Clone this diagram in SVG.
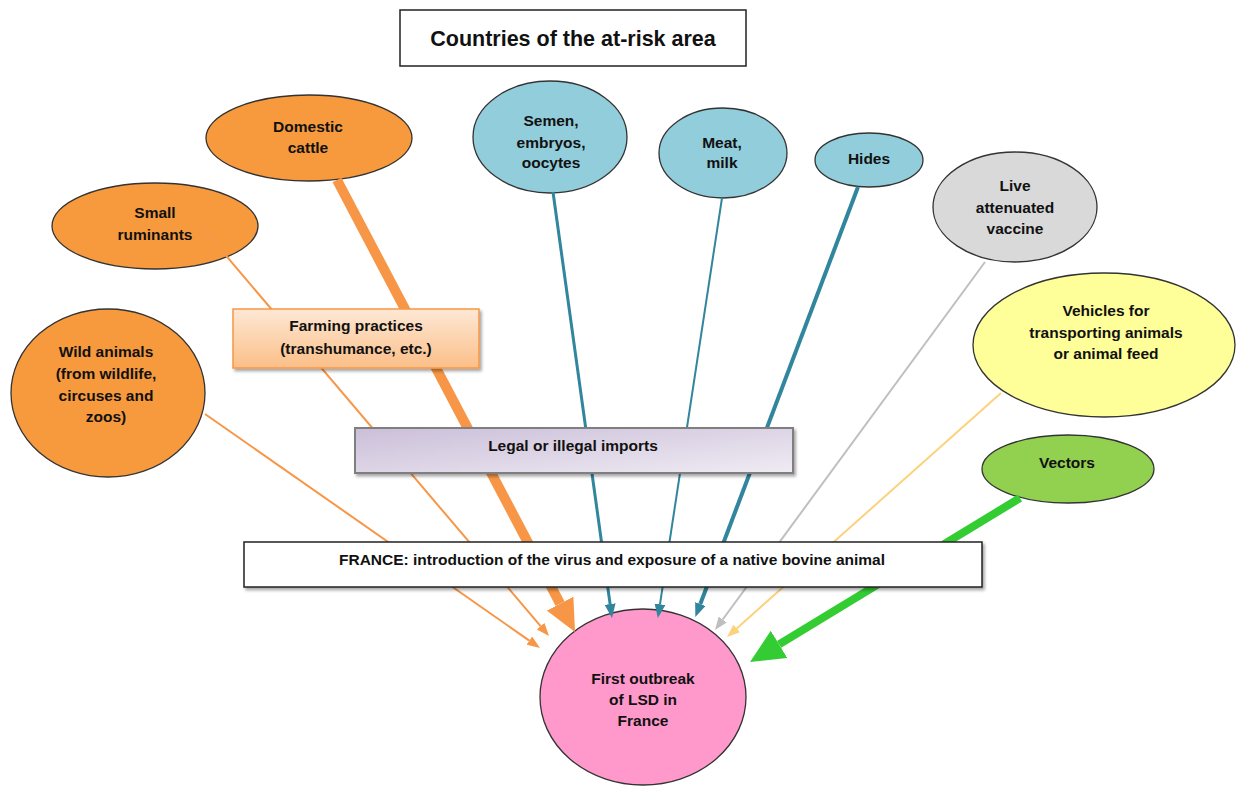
<svg xmlns="http://www.w3.org/2000/svg" width="1236" height="786" viewBox="0 0 1236 786">
<style>
text{font-family:"Liberation Sans",Arial,sans-serif;font-weight:bold;font-size:15.5px;fill:#111;text-anchor:middle}
.el{stroke:#333;stroke-width:1.3}
.or{fill:#f79a3e}.bl{fill:#92cddc}
.ln{fill:none;stroke-linecap:butt}
</style>
<defs>
<filter id="sh" x="-5%" y="-10%" width="115%" height="130%"><feDropShadow dx="2" dy="2.5" stdDeviation="1.5" flood-color="#000" flood-opacity="0.35"/></filter>
<linearGradient id="gFarm" x1="0" y1="0" x2="0" y2="1"><stop offset="0" stop-color="#fde8d5"/><stop offset="1" stop-color="#fbbf88"/></linearGradient>
<linearGradient id="gLegal" x1="0" y1="0" x2="1" y2="1"><stop offset="0" stop-color="#cbbfd9"/><stop offset="1" stop-color="#efebf3"/></linearGradient>
<marker id="mOrS" markerUnits="userSpaceOnUse" markerWidth="13" markerHeight="10" refX="0" refY="5" orient="auto" viewBox="0 0 13 10"><path d="M0,0L13,5L0,10z" fill="#f79646"/></marker>
<marker id="mOrL" markerUnits="userSpaceOnUse" markerWidth="32" markerHeight="30" refX="0" refY="15" orient="auto" viewBox="0 0 32 30"><path d="M0,0L32,15L0,30z" fill="#f79646"/></marker>
<marker id="mTeal" markerUnits="userSpaceOnUse" markerWidth="14" markerHeight="11" refX="0" refY="5.5" orient="auto" viewBox="0 0 14 11"><path d="M0,0L14,5.5L0,11z" fill="#31859c"/></marker>
<marker id="mGray" markerUnits="userSpaceOnUse" markerWidth="13" markerHeight="10" refX="0" refY="5" orient="auto" viewBox="0 0 13 10"><path d="M0,0L13,5L0,10z" fill="#bfbfbf"/></marker>
<marker id="mYel" markerUnits="userSpaceOnUse" markerWidth="13" markerHeight="10" refX="0" refY="5" orient="auto" viewBox="0 0 13 10"><path d="M0,0L13,5L0,10z" fill="#fcd27d"/></marker>
<marker id="mGreen" markerUnits="userSpaceOnUse" markerWidth="34" markerHeight="32" refX="0" refY="16" orient="auto" viewBox="0 0 34 32"><path d="M0,0L34,16L0,32z" fill="#33cc33"/></marker>
</defs>
<rect width="1236" height="786" fill="#fff"/>

<g id="title"><rect x="400" y="10" width="346" height="56" fill="#fff" stroke="#222" stroke-width="1.5"/><text x="573" y="46" style="font-size:21.5px">Countries of the at-risk area</text></g>

<g id="domestic-cattle"><ellipse class="el or" cx="309" cy="138" rx="103" ry="43"/><text x="308" y="131.5">Domestic</text><text x="308" y="152.5">cattle</text></g>
<g id="small-ruminants"><ellipse class="el or" cx="155" cy="226" rx="103" ry="43"/><text x="155" y="217.5">Small</text><text x="155" y="239.5">ruminants</text></g>
<g id="wild-animals"><ellipse class="el or" cx="108" cy="393" rx="97" ry="84"/><text x="106" y="356.5">Wild animals</text><text x="106" y="378.5">(from wildlife,</text><text x="106" y="400.5">circuses and</text><text x="106" y="421.5">zoos)</text></g>
<g id="semen"><ellipse class="el bl" cx="550" cy="137" rx="77" ry="56"/><text x="551" y="125.5">Semen,</text><text x="551" y="147.5">embryos,</text><text x="551" y="167.5">oocytes</text></g>
<g id="meat-milk"><ellipse class="el bl" cx="723" cy="153" rx="64" ry="45"/><text x="722" y="147.5">Meat,</text><text x="722" y="167.5">milk</text></g>
<g id="hides"><ellipse class="el bl" cx="869" cy="160" rx="54" ry="27"/><text x="869" y="163.5">Hides</text></g>
<g id="vaccine"><ellipse class="el" fill="#d9d9d9" cx="1015" cy="207" rx="82" ry="55"/><text x="1015" y="190.5">Live</text><text x="1015" y="212.5">attenuated</text><text x="1015" y="233.5">vaccine</text></g>
<g id="vehicles"><ellipse class="el" fill="#ffff99" cx="1104" cy="345" rx="131" ry="72"/><text x="1106" y="315.5">Vehicles for</text><text x="1106" y="337.5">transporting animals</text><text x="1106" y="358.5">or animal feed</text></g>
<g id="vectors"><ellipse class="el" fill="#92d050" cx="1068" cy="469" rx="86" ry="34"/><text x="1067" y="467.5">Vectors</text></g>
<g id="first-outbreak"><ellipse class="el" fill="#ff99cc" cx="643" cy="697" rx="103" ry="88"/><text x="643" y="683.5">First outbreak</text><text x="643" y="704.5">of LSD in</text><text x="643" y="725.5">France</text></g>

<g id="connectors">
<path class="ln" d="M205,414L529.3,640.6" stroke="#f79646" stroke-width="2" marker-end="url(#mOrS)"/>
<path class="ln" d="M200,225L540.6,626.1" stroke="#f79646" stroke-width="2" marker-end="url(#mOrS)"/>
<path class="ln" d="M337,180L560.1,603.7" stroke="#f79646" stroke-width="10" marker-end="url(#mOrL)"/>
<path class="ln" d="M553,192L610.1,604.1" stroke="#31859c" stroke-width="3" marker-end="url(#mTeal)"/>
<path class="ln" d="M722,198L660,604.2" stroke="#31859c" stroke-width="2" marker-end="url(#mTeal)"/>
<path class="ln" d="M858,187L700.3,604" stroke="#31859c" stroke-width="4" marker-end="url(#mTeal)"/>
<path class="ln" d="M985,262L722.7,619.5" stroke="#bfbfbf" stroke-width="2" marker-end="url(#mGray)"/>
<path class="ln" d="M1001,393L736.7,628.4" stroke="#fcd27d" stroke-width="2" marker-end="url(#mYel)"/>
<path class="ln" d="M1020,498L779.1,644.4" stroke="#33cc33" stroke-width="8" marker-end="url(#mGreen)"/>
</g>

<g id="farming-practices"><rect x="233" y="309" width="246" height="59" fill="url(#gFarm)" stroke="#f79646" stroke-width="1.5" filter="url(#sh)"/><text x="356" y="330.5">Farming practices</text><text x="356" y="353.5">(transhumance, etc.)</text></g>
<g id="legal-imports"><rect x="355" y="428" width="438" height="45" fill="url(#gLegal)" stroke="#7f7f7f" stroke-width="2" filter="url(#sh)"/><text x="573" y="450.5">Legal or illegal imports</text></g>
<g id="france"><rect x="244" y="542" width="738" height="45" fill="#fff" stroke="#222" stroke-width="1.5" filter="url(#sh)"/><text x="612" y="564.5">FRANCE: introduction of the virus and exposure of a native bovine animal</text></g>
</svg>
